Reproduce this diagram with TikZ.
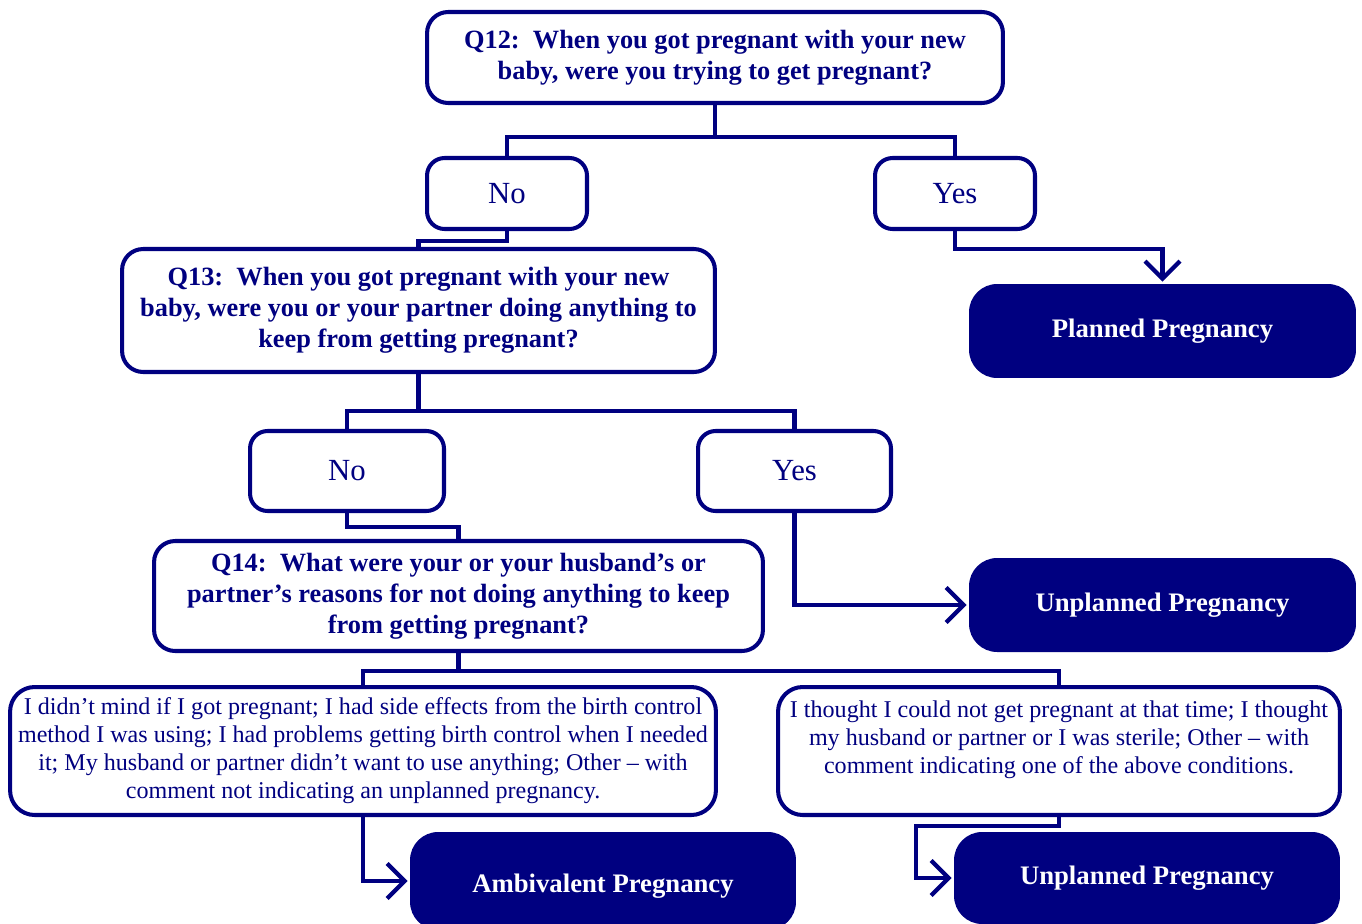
\documentclass[tikz,border=0pt]{standalone}
\usepackage{fontspec}
\setmainfont{Liberation Serif}
\usetikzlibrary{arrows.meta}
\definecolor{navy}{HTML}{000080}

\begin{document}
\begin{tikzpicture}[x=0.02cm, y=-0.02cm, line width=2.8pt, draw=navy,
    >={Straight Barb[length=3.5mm,width=7mm,line width=2.4pt]},
    qbox/.style = {draw=navy, line width=2.3pt, rounded corners=12pt, fill=white, text=navy,
                   align=center, inner sep=0pt, font=\fontsize{15}{17.6}\selectfont\bfseries},
    ans/.style = {draw=navy, line width=2.3pt, rounded corners=10pt, text=navy,
                  minimum height=1.5cm, inner sep=0pt, font=\fontsize{17.5}{20}\selectfont},
    txt/.style = {draw=navy, line width=2.3pt, rounded corners=14pt, text=navy, align=center,
                  minimum height=2.56cm, inner sep=0pt, font=\fontsize{13.7}{15.9}\selectfont},
    outcome/.style = {fill=navy, rounded corners=16pt, text=white, inner sep=0pt,
                      minimum width=7.74cm, font=\fontsize{15.2}{17}\selectfont\bfseries}]
    \useasboundingbox (0,0) rectangle (1362,923);

    % questions
    \node[qbox, minimum width=11.52cm, minimum height=1.82cm] (q12) at (715,57.5)
        {Q12:\ \ When you got pregnant with your new\\ baby, were you trying to get pregnant?};
    \node[qbox, minimum width=11.86cm, minimum height=2.46cm] (q13) at (418.5,310.5)
        {Q13:\ \ When you got pregnant with your new\\ baby, were you or your partner doing anything to\\ keep from getting pregnant?};
    \node[qbox, minimum width=12.18cm, minimum height=2.2cm] (q14) at (458.5,596)
        {Q14:\ \ What were your or your husband's or\\ partner's reasons for not doing anything to keep\\ from getting pregnant?};

    % answers
    \node[ans, minimum width=3.2cm, minimum height=1.42cm] (no1) at (507,193.5) {No};
    \node[ans, minimum width=3.2cm, minimum height=1.42cm] (yes1) at (955,193.5) {Yes};
    \node[ans, minimum width=3.88cm, minimum height=1.6cm] (no2) at (347,471) {No};
    \node[ans, minimum width=3.86cm, minimum height=1.6cm] (yes2) at (794.5,471) {Yes};

    \node[txt, minimum width=14.12cm] (ltxt) at (363,751)
        {I didn't mind if I got pregnant; I had side effects from the birth control\\
         method I was using; I had problems getting birth control when I needed\\
         it; My husband or partner didn't want to use anything; Other -- with\\
         comment not indicating an unplanned pregnancy.};
    \node[txt, minimum width=11.24cm] (rtxt) at (1059,751)
        {I thought I could not get pregnant at that time; I thought\\
         my husband or partner or I was sterile; Other -- with\\
         comment indicating one of the above conditions.\\ \mbox{}};

    % outcomes
    \node[outcome, minimum height=1.88cm] (planned) at (1162.5,331) {Planned Pregnancy};
    \node[outcome, minimum height=1.88cm] (unpl1) at (1162.5,605) {Unplanned Pregnancy};
    \node[outcome, minimum width=7.72cm, minimum height=1.96cm, text height=0.56cm] (ambi) at (603,881) {Ambivalent Pregnancy};
    \node[outcome, minimum width=7.72cm, minimum height=1.84cm] (unpl2) at (1147,878) {Unplanned Pregnancy};
    \coordinate (bend) at (916,878);

    % connectors
    \draw (q12.south) -- ++(0,32) -| (no1.north);
    \draw (q12.south) -- ++(0,32) -| (yes1.north);
    \draw (no1.south) -- ++(0,10) -| (q13.north);
    \draw[->] (yes1.south) -- ++(0,18) -| (planned.north);
    \draw (q13.south) -- ++(0,37) -| (no2.north);
    \draw (q13.south) -- ++(0,37) -| (yes2.north);
    \draw (no2.south) -- ++(0,14) -| (q14.north);
    \draw[->] (yes2.south) |- (unpl1.west);
    \draw (q14.south) -- ++(0,18) -| (ltxt.north);
    \draw (q14.south) -- ++(0,18) -| (rtxt.north);
    \draw[->] (ltxt.south) |- (ambi.west);
    \draw[->] (rtxt.south) -- ++(0,9) -| (bend) -- (unpl2.west);
\end{tikzpicture}
\end{document}
